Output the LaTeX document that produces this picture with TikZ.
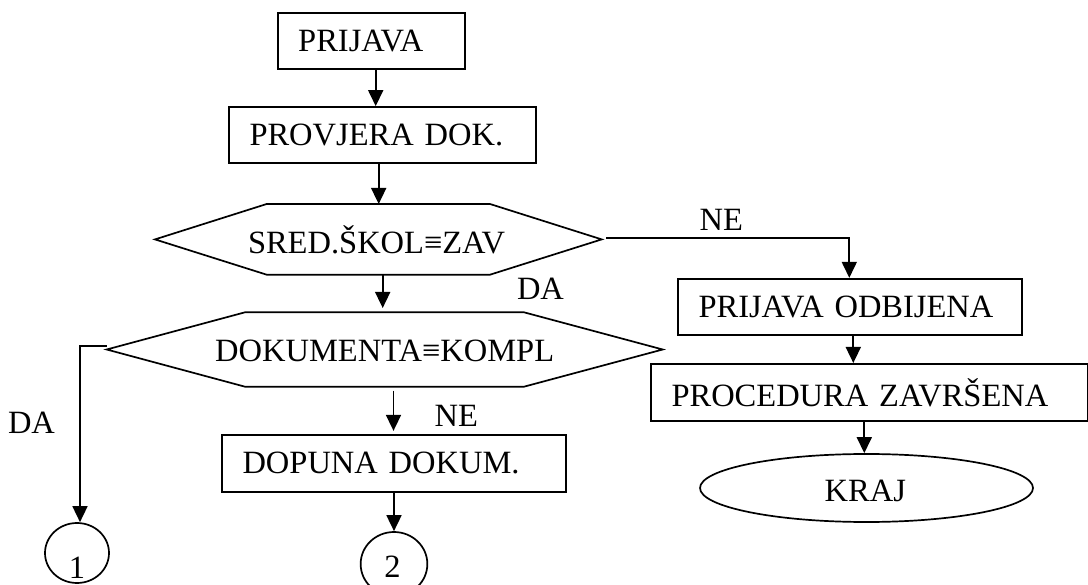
\documentclass[tikz,border=0pt]{standalone}
\usepackage{fontspec}
\setmainfont{Liberation Serif}
\usetikzlibrary{arrows.meta,shapes.geometric}
\begin{document}
\begin{tikzpicture}[x=1pt,y=-1pt,
  font=\fontsize{32.5}{38}\selectfont,
  line width=1.7pt,
  stepbox/.style={draw, rectangle, align=left, inner xsep=20.5pt, inner ysep=0pt},
  oval/.style={draw, ellipse, inner sep=0pt},
  txt/.style={anchor=base, inner sep=0pt},
  arr/.style={-{Triangle[length=16pt,width=15pt]}}
]
\useasboundingbox (0,0) rectangle (1088,585);

% process boxes
\node[stepbox, text width=146.3pt, minimum height=56pt]   (prijava)   at (371.35,41.3)  {PRIJAVA};
\node[stepbox, text width=266pt,   minimum height=55.7pt] (provjera)  at (382.5,134.85) {PROVJERA DOK.};
\node[stepbox, text width=303pt,   minimum height=56.7pt] (dopuna)    at (394,463.35)   {DOPUNA DOKUM.};
\node[stepbox, text width=302.7pt, minimum height=56.3pt] (odbijena)  at (849.85,306.85) {PRIJAVA ODBIJENA};
\node[stepbox, text width=395.5pt, minimum height=57pt]   (procedura) at (869.25,392.35) {PROCEDURA ZAVRŠENA};

% decisions (elongated hexagons)
\draw (155,239.4) -- (266.7,204) -- (490,204) -- (601.7,239.4) -- (490,274.7) -- (266.7,274.7) -- cycle;
\node[txt] (q1) at (376.5,253.3) {SRED.ŠKOL≡ZAV};
\draw (106.7,349.5) -- (245,312.3) -- (524,312.3) -- (662.7,349.5) -- (524,386.7) -- (245,386.7) -- cycle;
\node[txt] (q2) at (384.7,361.7) {DOKUMENTA≡KOMPL};

% connectors on the decision outlines
\coordinate (h1n) at (378.7,204);
\coordinate (h1s) at (382.7,274.7);
\coordinate (h1e) at (606,237.7);
\coordinate (h2n) at (382.7,308);
\coordinate (h2s) at (393.5,390.7);
\coordinate (h2w) at (106.7,346.3);

% terminators and connectors
\node[oval, minimum width=64pt, minimum height=60pt] (c1) at (77,553) {};
\node[txt] (c1t) at (77,578.3) {1};
\node[oval, minimum width=66.7pt, minimum height=64pt] (c2) at (394,564) {};
\node[txt] (c2t) at (392.5,577) {2};
\node[oval, minimum width=333pt, minimum height=68pt] (kraj) at (866.5,488) {};
\node[txt] (krajt) at (865.3,501.7) {KRAJ};

% branch labels
\node[txt] (da1) at (540.5,299.3) {DA};
\node[txt] (ne1) at (721.3,230.7) {NE};
\node[txt] (ne2) at (456.3,426.7) {NE};
\node[txt] (da2) at (31.5,433.3) {DA};

% arrow columns
\coordinate (a1) at (375.7,0);
\coordinate (a2) at (378.7,0);
\coordinate (a7) at (849.3,0);
\coordinate (a8) at (853.3,0);
\coordinate (a9) at (864.3,0);
\coordinate (k1) at (80,0);

% flow
\draw[arr] (prijava.south -| a1) -- (provjera.north -| a1);
\draw[arr] (provjera.south -| a2) -- (h1n);
\draw[arr] (h1s) -- (h2n);
\draw[arr, shorten >=3.3pt] (h2s) -- (dopuna.north -| h2s);
\draw[arr] (dopuna.south -| c2.north) -- (c2.north);
\draw[arr] (h1e) -| (odbijena.north -| a7);
\draw[arr] (odbijena.south -| a8) -- (procedura.north -| a8);
\draw[arr] (procedura.south -| a9) -- (kraj.north -| a9);
\draw[arr] (h2w) -| (c1.north -| k1);
\end{tikzpicture}
\end{document}
